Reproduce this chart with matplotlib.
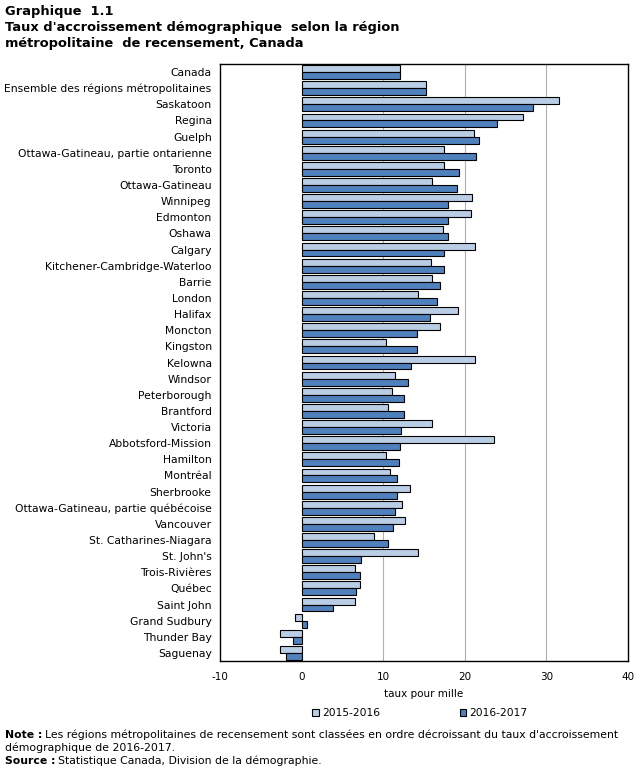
import matplotlib
matplotlib.use("Agg")
import matplotlib.pyplot as plt
import numpy as np

regions = ["Canada", "Ensemble des régions métropolitaines", "Saskatoon", "Regina", "Guelph",
           "Ottawa-Gatineau, partie ontarienne", "Toronto", "Ottawa-Gatineau", "Winnipeg",
           "Edmonton", "Oshawa", "Calgary", "Kitchener-Cambridge-Waterloo", "Barrie", "London",
           "Halifax", "Moncton", "Kingston", "Kelowna", "Windsor", "Peterborough", "Brantford",
           "Victoria", "Abbotsford-Mission", "Hamilton", "Montréal", "Sherbrooke",
           "Ottawa-Gatineau, partie québécoise", "Vancouver", "St. Catharines-Niagara",
           "St. John's", "Trois-Rivières", "Québec", "Saint John", "Grand Sudbury",
           "Thunder Bay", "Saguenay"]

rate_2015 = [12.0, 15.2, 31.5, 27.1, 21.1, 17.4, 17.4, 16.0, 20.9, 20.7, 17.3, 21.2,
             15.8, 16.0, 14.3, 19.2, 17.0, 10.4, 21.2, 11.4, 11.1, 10.6, 16.0, 23.6,
             10.3, 10.8, 13.3, 12.3, 12.7, 8.9, 14.3, 6.5, 7.1, 6.5, -0.8, -2.7, -2.7]

rate_2016 = [12.1, 15.2, 28.3, 24.0, 21.7, 21.4, 19.3, 19.0, 18.0, 18.0, 17.9, 17.5,
             17.4, 17.0, 16.6, 15.7, 14.2, 14.1, 13.4, 13.1, 12.5, 12.5, 12.2, 12.1,
             11.9, 11.7, 11.7, 11.4, 11.2, 10.6, 7.3, 7.2, 6.7, 3.8, 0.7, -1.0, -1.9]

xticks = [-10, 0, 10, 20, 30, 40]

W, H = 644, 772
fig = plt.figure(figsize=(W / 100, H / 100), dpi=100)
ax = fig.add_axes([220 / W, 1 - 661 / H, (628 - 220) / W, (661 - 64) / H])

y = np.arange(len(regions))
h = 0.43
ax.barh(y - h / 2, rate_2015, height=h, color="#b9cde5", edgecolor="black", linewidth=0.8,
        label="2015-2016", zorder=3)
ax.barh(y + h / 2, rate_2016, height=h, color="#4f81bd", edgecolor="black", linewidth=0.8,
        label="2016-2017", zorder=3)

ax.set_xlim(-10, 40)
ax.set_ylim(len(regions) - 0.5, -0.5)
ax.set_xticks(xticks)
ax.set_xticklabels([str(t) for t in xticks], fontsize=7.5)
ax.set_yticks(y)
ax.set_yticklabels(regions, fontsize=7.75)
ax.tick_params(axis="y", length=0, pad=6)
ax.tick_params(axis="x", length=0, pad=8)
for gx in [10, 20, 30]:
    ax.axvline(gx, color="#b0b0b0", linewidth=0.8, zorder=1)
for s in ax.spines.values():
    s.set_linewidth(1.0)
ax.set_xlabel("taux pour mille", fontsize=7.5, labelpad=5)

fig.legend(loc="center", bbox_to_anchor=(420 / W, 1 - 713 / H), ncol=2, frameon=False,
           fontsize=7.7, handlelength=0.6, handleheight=0.6, handletextpad=0.3,
           columnspacing=7.5)

fig.text(5 / W, 1 - 12 / H, "Graphique  1.1", fontsize=9.4, fontweight="bold", va="center")
fig.text(5 / W, 1 - 28 / H, "Taux d'accroissement démographique  selon la région",
         fontsize=9.4, fontweight="bold", va="center")
fig.text(5 / W, 1 - 44 / H, "métropolitaine  de recensement, Canada",
         fontsize=9.4, fontweight="bold", va="center")

renderer = fig.canvas.get_renderer()
t1 = fig.text(5 / W, 1 - 735 / H, "Note :", fontsize=7.8, fontweight="bold", va="center")
w1 = t1.get_window_extent(renderer).width
fig.text((5 + w1 + 3) / W, 1 - 735 / H,
         "Les régions métropolitaines de recensement sont classées en ordre décroissant du taux d'accroissement",
         fontsize=7.8, va="center")
fig.text(5 / W, 1 - 748 / H, "démographique de 2016-2017.", fontsize=7.8, va="center")
t2 = fig.text(5 / W, 1 - 761 / H, "Source :", fontsize=7.8, fontweight="bold", va="center")
w2 = t2.get_window_extent(renderer).width
fig.text((5 + w2 + 3) / W, 1 - 761 / H, "Statistique Canada, Division de la démographie.",
         fontsize=7.8, va="center")

fig.savefig("out.png", dpi=100)
